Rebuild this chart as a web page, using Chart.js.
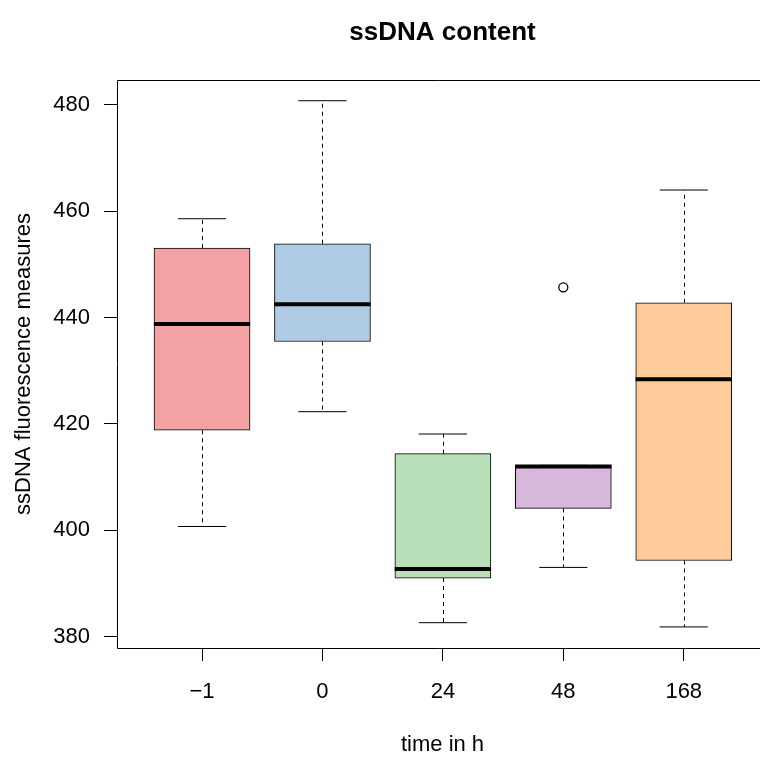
<!DOCTYPE html>
<html>
<head>
<meta charset="utf-8">
<script src="https://cdn.jsdelivr.net/npm/chart.js@4"></script>
<style>
  html, body { margin: 0; padding: 0; background: #fff; overflow: hidden; }
  canvas { display: block; }
</style>
</head>
<body>
<canvas id="boxChart" width="760" height="760"></canvas>
<script>
// time points (h)
const categories = ["\u22121", "0", "24", "48", "168"];
const lowerWhisker = [400.7, 422.3, 382.6, 393.0, 381.8];
const q1 = [418.8, 435.5, 391.0, 404.1, 394.3];
const median = [438.8, 442.5, 392.7, 412.0, 428.4];
const q3 = [453.1, 453.9, 414.4, 412.2, 442.8];
const upperWhisker = [458.6, 480.8, 418.1, 412.2, 464.0];
const outlierIdx = [3];
const outlierVal = [445.7];
const yTicks = [380, 400, 420, 440, 460, 480];
const boxColors = ['#F4A3A4', '#AFCBE3', '#B8DFB7', '#D6B8DA', '#FFCC99'];

const font = "'Liberation Sans', Arial, Helvetica, sans-serif";

const boxExtras = {
    id: 'boxExtras',
    afterDatasetsDraw(chart) {
        const ctx = chart.ctx;
        const xs = chart.scales.x, ys = chart.scales.y;
        ctx.save();
        ctx.strokeStyle = '#000';
        for (let i = 0; i < categories.length; i++) {
            const cx = Math.round(xs.getPixelForValue(i)) + 0.5;
            // dashed whiskers
            ctx.lineWidth = 1;
            ctx.setLineDash([4, 4]);
            ctx.beginPath();
            ctx.moveTo(cx, ys.getPixelForValue(q3[i]));
            ctx.lineTo(cx, ys.getPixelForValue(upperWhisker[i]));
            ctx.moveTo(cx, ys.getPixelForValue(q1[i]));
            ctx.lineTo(cx, ys.getPixelForValue(lowerWhisker[i]));
            ctx.stroke();
            // caps
            ctx.setLineDash([]);
            ctx.beginPath();
            const l = xs.getPixelForValue(i - 0.2), r = xs.getPixelForValue(i + 0.2);
            ctx.moveTo(l, ys.getPixelForValue(upperWhisker[i]));
            ctx.lineTo(r, ys.getPixelForValue(upperWhisker[i]));
            ctx.moveTo(l, ys.getPixelForValue(lowerWhisker[i]));
            ctx.lineTo(r, ys.getPixelForValue(lowerWhisker[i]));
            ctx.stroke();
            // median
            ctx.lineWidth = 4;
            ctx.beginPath();
            ctx.moveTo(xs.getPixelForValue(i - 0.4), ys.getPixelForValue(median[i]));
            ctx.lineTo(xs.getPixelForValue(i + 0.4), ys.getPixelForValue(median[i]));
            ctx.stroke();
        }
        ctx.restore();
    },
    afterDraw(chart) {
        const ctx = chart.ctx;
        const a = chart.chartArea;
        ctx.save();
        // frame (right side falls outside the canvas)
        ctx.strokeStyle = '#000';
        ctx.lineWidth = 1;
        ctx.beginPath();
        ctx.moveTo(chart.width, a.top + 0.5);
        ctx.lineTo(a.left + 0.5, a.top + 0.5);
        ctx.lineTo(a.left + 0.5, a.bottom + 0.5);
        ctx.lineTo(chart.width, a.bottom + 0.5);
        ctx.stroke();
        // titles
        ctx.fillStyle = '#000';
        ctx.textAlign = 'center';
        ctx.textBaseline = 'middle';
        const cx = (a.left + chart.scales.x.getPixelForValue(categories.length - 1 + 0.7)) / 2;
        ctx.font = 'bold 26px ' + font;
        ctx.fillText('ssDNA content', cx, 33);
        ctx.font = '22px ' + font;
        ctx.fillText('time in h', cx, 745);
        ctx.translate(24, (a.top + a.bottom) / 2);
        ctx.rotate(-Math.PI / 2);
        ctx.fillText('ssDNA fluorescence measures', 0, 0);
        ctx.restore();
    }
};

const chartEl = document.getElementById('boxChart');
const boxChart = new Chart(chartEl, {
    type: 'bar',
    data: {
        datasets: [{
            label: 'IQR',
            data: categories.map((c, i) => ({ x: i, y: [q1[i], q3[i]] })),
            backgroundColor: boxColors,
            borderColor: '#000',
            borderWidth: 1,
            borderSkipped: false,
            barThickness: 96
        }, {
            type: 'scatter',
            label: 'outliers',
            data: outlierIdx.map((k, j) => ({ x: k, y: outlierVal[j] })),
            pointRadius: 4.5,
            pointBorderWidth: 1.3,
            pointBorderColor: '#000',
            pointBackgroundColor: 'rgba(0,0,0,0)'
        }]
    },
    options: {
        responsive: false,
        animation: false,
        layout: { padding: { top: 80, left: 0, right: 0, bottom: 0 } },
        plugins: {
            legend: { display: false },
            tooltip: { enabled: false },
            title: { display: false }
        },
        scales: {
            x: {
                type: 'linear',
                offset: false,
                min: -0.706,
                max: 4.585,
                afterFit: s => { s.height = 112; },
                afterBuildTicks: s => { s.ticks = categories.map((c, i) => ({ value: i })); },
                grid: { offset: false, drawOnChartArea: false, drawTicks: true, tickLength: 13, tickColor: '#000', tickWidth: 1 },
                border: { display: false },
                ticks: {
                    callback: v => categories[v],
                    color: '#000',
                    font: { family: font, size: 22 },
                    padding: 18,
                    maxRotation: 0
                }
            },
            y: {
                min: 377.84,
                max: 484.7,
                afterFit: s => { s.width = 117; },
                afterBuildTicks: s => { s.ticks = yTicks.map(v => ({ value: v })); },
                grid: { drawOnChartArea: false, drawTicks: true, tickLength: 13, tickColor: '#000', tickWidth: 1 },
                border: { display: false },
                ticks: {
                    color: '#000',
                    font: { family: font, size: 22 },
                    padding: 14
                }
            }
        }
    },
    plugins: [boxExtras]
});
</script>
</body>
</html>
